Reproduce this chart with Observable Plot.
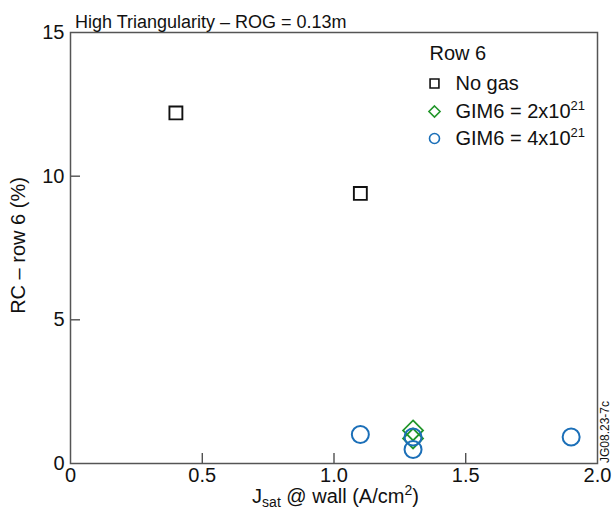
<!DOCTYPE html>
<html><head><meta charset="utf-8">
<script src="https://cdn.jsdelivr.net/npm/d3@7"></script>
<script src="https://cdn.jsdelivr.net/npm/@observablehq/plot@0.6"></script>
<style>body{margin:0;background:#fff} svg{display:block}</style>
</head><body><div id="chart"></div>
<script>
// Data
const noGasJ = [0.40, 1.10];
const noGasRC = [12.2, 9.4];
const gim2J = [1.30, 1.30];
const gim2RC = [1.15, 0.87];
const gim4J = [1.10, 1.30, 1.30, 1.90];
const gim4RC = [1.01, 0.92, 0.49, 0.92];
const xTicks = [0, 0.5, 1.0, 1.5, 2.0];
const yTicks = [0, 5, 10, 15];
const xInnerTicks = [0.5, 1.0, 1.5];
const yInnerTicks = [5, 10];
const legendTitle = "Row 6";
const seriesNames = ["No gas", "GIM6 = 2x10²¹", "GIM6 = 4x10²¹"];
const seriesSymbols = ["square", "diamond2", "circle"];
const seriesColors = ["#111111", "#22962a", "#1b6fb8"];

const zip = (xs, ys) => xs.map((x, i) => ({x, y: ys[i]}));
const noGas = zip(noGasJ, noGasRC);
const gim2 = zip(gim2J, gim2RC);
const gim4 = zip(gim4J, gim4RC);

const W = 612, H = 511, mL = 70, mR = 15, mT = 32, mB = 48;
const pw = W - mL - mR, ph = H - mT - mB;
const FONT = "'Liberation Sans', Arial, Helvetica, sans-serif";

const legendMarks = [];
legendMarks.push(Plot.text([legendTitle], {text: d => d, frameAnchor: "top-left", dx: 359, dy: 21,
  textAnchor: "start", lineAnchor: "middle", fontSize: 20, fill: "#111"}));
seriesNames.forEach((name, i) => {
  const dy = [51, 79, 106][i];
  legendMarks.push(Plot.dot([name], {frameAnchor: "top-left", dx: 364, dy, symbol: seriesSymbols[i],
    r: 5, stroke: seriesColors[i], strokeWidth: 1.6, fill: "none"}));
  legendMarks.push(Plot.text([name], {text: d => d, frameAnchor: "top-left", dx: 385, dy,
    textAnchor: "start", lineAnchor: "middle", fontSize: 20, fill: "#111"}));
});

const chart = Plot.plot({
  width: W, height: H,
  marginLeft: mL, marginRight: mR, marginTop: mT, marginBottom: mB,
  style: {fontFamily: FONT, background: "#fff", color: "#111"},
  x: {domain: [0, 2], ticks: xTicks, label: null},
  y: {domain: [0, 15], ticks: yTicks, label: null},
  marks: [
    Plot.ruleX(xInnerTicks, {x: d => d, insetTop: ph - 10, stroke: "#333", strokeWidth: 1.2}),
    Plot.ruleY(yInnerTicks, {y: d => d, insetRight: pw - 10, stroke: "#333", strokeWidth: 1.2}),
    Plot.frame({stroke: "#555", strokeWidth: 1.5}),
    Plot.axisX({ticks: xTicks, tickSize: 0, tickPadding: 4, fontSize: 20,
      tickFormat: d => d === 0 ? "0" : d3.format(".1f")(d)}),
    Plot.axisY({ticks: yTicks, tickSize: 0, tickPadding: 6, fontSize: 20,
      tickFormat: d => String(d)}),
    Plot.dot(noGas, {x: "x", y: "y", symbol: "square", r: 7.3, stroke: seriesColors[0], strokeWidth: 1.9, fill: "none"}),
    Plot.dot(gim2, {x: "x", y: "y", symbol: "diamond2", r: 9, stroke: seriesColors[1], strokeWidth: 1.8, fill: "none"}),
    Plot.dot(gim4, {x: "x", y: "y", symbol: "circle", r: 8.5, stroke: seriesColors[2], strokeWidth: 2, fill: "none"}),
    ...legendMarks
  ]
});

const svg = d3.select(chart);
// superscripts in legend labels
svg.selectAll("text").each(function() {
  const t = this.textContent;
  if (this.childElementCount === 0 && t.includes("²¹")) {
    const sel = d3.select(this);
    sel.text(null);
    sel.append("tspan").text(t.replace("²¹", ""));
    sel.append("tspan").attr("font-size", 13).attr("dy", -8).text("21");
  }
});
svg.append("text").attr("x", 75).attr("y", 28).attr("text-anchor", "start").attr("font-size", 18).attr("fill", "#111")
  .style("font-family", FONT).text("High Triangularity – ROG = 0.13m");
const xl = svg.append("text").attr("x", mL + pw / 2 + 2).attr("y", 503).attr("text-anchor", "middle")
  .attr("font-size", 20).attr("fill", "#111").style("font-family", FONT);
xl.append("tspan").text("J");
xl.append("tspan").attr("font-size", 14).attr("dy", 4).text("sat");
xl.append("tspan").attr("dy", -4).text(" @ wall (A/cm");
xl.append("tspan").attr("font-size", 14).attr("dy", -8).text("2");
xl.append("tspan").attr("dy", 8).text(")");
svg.append("text").attr("transform", `translate(25,${mT + ph / 2 - 2}) rotate(-90)`).attr("text-anchor", "middle")
  .attr("font-size", 20).attr("fill", "#111").style("font-family", FONT).text("RC – row 6 (%)");
svg.append("text").attr("transform", "translate(609,463) rotate(-90)").attr("text-anchor", "start")
  .attr("font-size", 12).attr("fill", "#111").style("font-family", FONT).text("JG08.23-7c");

document.getElementById("chart").appendChild(chart);
</script></body></html>
